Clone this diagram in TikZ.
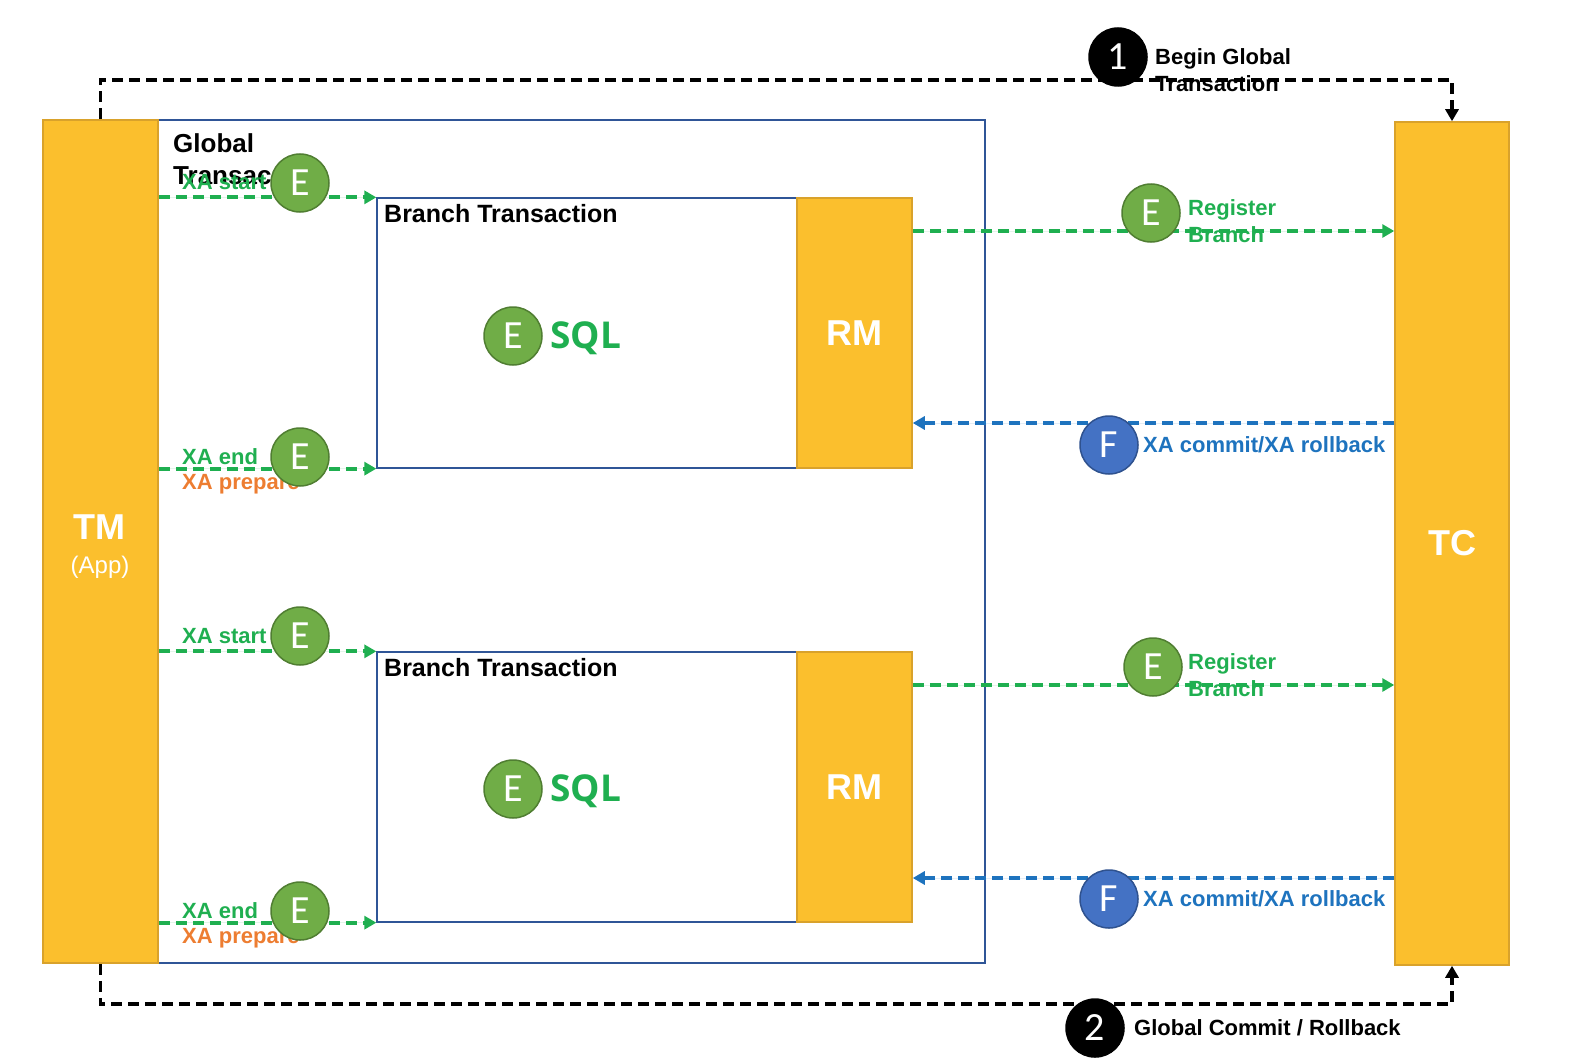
\documentclass[tikz,border=0pt]{standalone}
\usepackage{fontspec}
\setmainfont{Liberation Sans}
\newfontfamily\osans{Open Sans}
\newfontfamily\carl{Carlito}
\usetikzlibrary{arrows.meta}
\definecolor{yel}{HTML}{FBBF2D}
\definecolor{yelb}{HTML}{D9A22B}
\definecolor{gfill}{HTML}{70AD47}
\definecolor{gdraw}{HTML}{507E32}
\definecolor{gtext}{HTML}{1FAF50}
\definecolor{otext}{HTML}{ED7D31}
\definecolor{bfill}{HTML}{4472C4}
\definecolor{bdraw}{HTML}{2F528F}
\definecolor{btext}{HTML}{1E73BE}
\definecolor{frame}{HTML}{2F5597}
\begin{document}
\begin{tikzpicture}[x=1pt,y=-1pt,
 ybox/.style={fill=yel,draw=yelb,line width=1.5pt,inner sep=0,text=white,font=\bfseries\fontsize{36}{40}\selectfont},
 fbox/.style={draw=frame,line width=1.3pt,inner sep=0},
 circ/.style={circle,line width=1.5pt,minimum size=58pt,inner sep=0,text=white,font=\carl\fontsize{40}{40}\selectfont},
 ecirc/.style={circ,fill=gfill,draw=gdraw},
 fcirc/.style={circ,fill=bfill,draw=bdraw},
 ncirc/.style={circ,fill=black,draw=black},
 lbl/.style={inner sep=0,anchor=west,align=left,font=\bfseries\fontsize{22}{26.5}\selectfont},
 dsh/.style={line width=3.8pt,dash pattern=on 11pt off 6pt,-{Triangle[length=12pt,width=13pt]}},
 gdash/.style={dsh,draw=gtext,fill=gtext},
 bdash/.style={dsh,draw=btext,fill=btext},
 kdash/.style={dsh,draw=black},
]
\useasboundingbox (0,0) rectangle (1570,1062);
% frames
\node[fbox,minimum width=827pt,minimum height=843pt] (gt) at (571.5,541.5) {};
\node[ybox,minimum width=115pt,minimum height=843pt] (tm) at (100.5,541.5) {};
\node[inner sep=0,text=white,font=\bfseries\fontsize{36}{40}\selectfont] (tmt) at (99,527) {TM};
\node[inner sep=0,text=white,font=\fontsize{24}{28}\selectfont] (tma) at (100,567) {(App)};
\node[ybox,minimum width=114pt,minimum height=843pt] (tc) at (1452,543.5) {TC};
\node[fbox,minimum width=420pt,minimum height=270pt] (br1) at (587,333) {};
\node[fbox,minimum width=420pt,minimum height=270pt] (br2) at (587,787) {};
\node[ybox,minimum width=115pt,minimum height=270pt] (rm1) at (854.5,333) {\raisebox{-3pt}{RM}};
\node[ybox,minimum width=115pt,minimum height=270pt] (rm2) at (854.5,787) {\raisebox{-3pt}{RM}};
% titles
\node[lbl,anchor=north west,font=\bfseries\fontsize{26}{32}\selectfont] (gtl) at (173,133) {Global\\Transac};
\node[lbl,font=\bfseries\fontsize{25}{30}\selectfont] (bt1) at (384,214) {Branch Transaction};
\node[lbl,font=\bfseries\fontsize{25}{30}\selectfont] (bt2) at (384,668) {Branch Transaction};
% global dashed loops
\coordinate (topY) at (0,80);
\coordinate (botY) at (0,1004);
\draw[kdash] (tm.north) -- (tm.north |- topY) -| (tc.north);
\draw[kdash] (tm.south) -- (tm.south |- botY) -| (tc.south);
% left arrows
\draw[gdash] (tm.east |- br1.north west) -- (br1.north west);
\draw[gdash] (tm.east |- br1.south west) -- (br1.south west);
\draw[gdash] (tm.east |- br2.north west) -- (br2.north west);
\draw[gdash] (tm.east |- br2.south west) -- (br2.south west);
% right arrows
\coordinate (r1) at (0,231);
\coordinate (r2) at (0,685);
\coordinate (c1) at (0,423);
\coordinate (c2) at (0,878);
\draw[gdash] (rm1.east |- r1) -- (tc.west |- r1);
\draw[gdash] (rm2.east |- r2) -- (tc.west |- r2);
\draw[bdash] (tc.west |- c1) -- (rm1.east |- c1);
\draw[bdash] (tc.west |- c2) -- (rm2.east |- c2);
% labels
\node[lbl,text=gtext] (xs1) at (182,182) {XA start};
\node[lbl,text=gtext] (xe1) at (182,457) {XA end};
\node[lbl,text=otext] (xp1) at (182,484) {XA prepare};
\node[lbl,text=gtext] (xs2) at (182,636) {XA start};
\node[lbl,text=gtext] (xe2) at (182,911) {XA end};
\node[lbl,text=otext] (xp2) at (182,938) {XA prepare};
\node[lbl,text=gtext] (rb1) at (1188,221) {Register\\Branch};
\node[lbl,text=gtext] (rb2) at (1188,675) {Register\\Branch};
\node[lbl,text=btext] (xc1) at (1143,445) {XA commit/XA rollback};
\node[lbl,text=btext] (xc2) at (1143,899) {XA commit/XA rollback};
\node[lbl] (bg) at (1155,70) {Begin Global\\Transaction};
\node[lbl] (gc) at (1134,1028) {Global Commit / Rollback};
% circles
\node[ecirc] (e1) at (300,183) {E};
\node[ecirc] (e2) at (300,457) {E};
\node[ecirc] (e3) at (300,636) {E};
\node[ecirc] (e4) at (300,911) {E};
\node[ecirc] (e5) at (1151,213) {E};
\node[ecirc] (e6) at (1153,667) {E};
\node[ecirc] (s1) at (513,336) {E};
\node[ecirc] (s2) at (513,789) {E};
\node[fcirc] (f1) at (1109,445) {F};
\node[fcirc] (f2) at (1109,899) {F};
\node[ncirc] (n1) at (1118,57) {1};
\node[ncirc] (n2) at (1095,1028) {2};
\node[inner sep=0,anchor=west,text=gtext,font=\osans\bfseries\fontsize{37}{40}\selectfont] (sq1) at (550,338) {SQL};
\node[inner sep=0,anchor=west,text=gtext,font=\osans\bfseries\fontsize{37}{40}\selectfont] (sq2) at (550,791) {SQL};
\end{tikzpicture}
\end{document}
